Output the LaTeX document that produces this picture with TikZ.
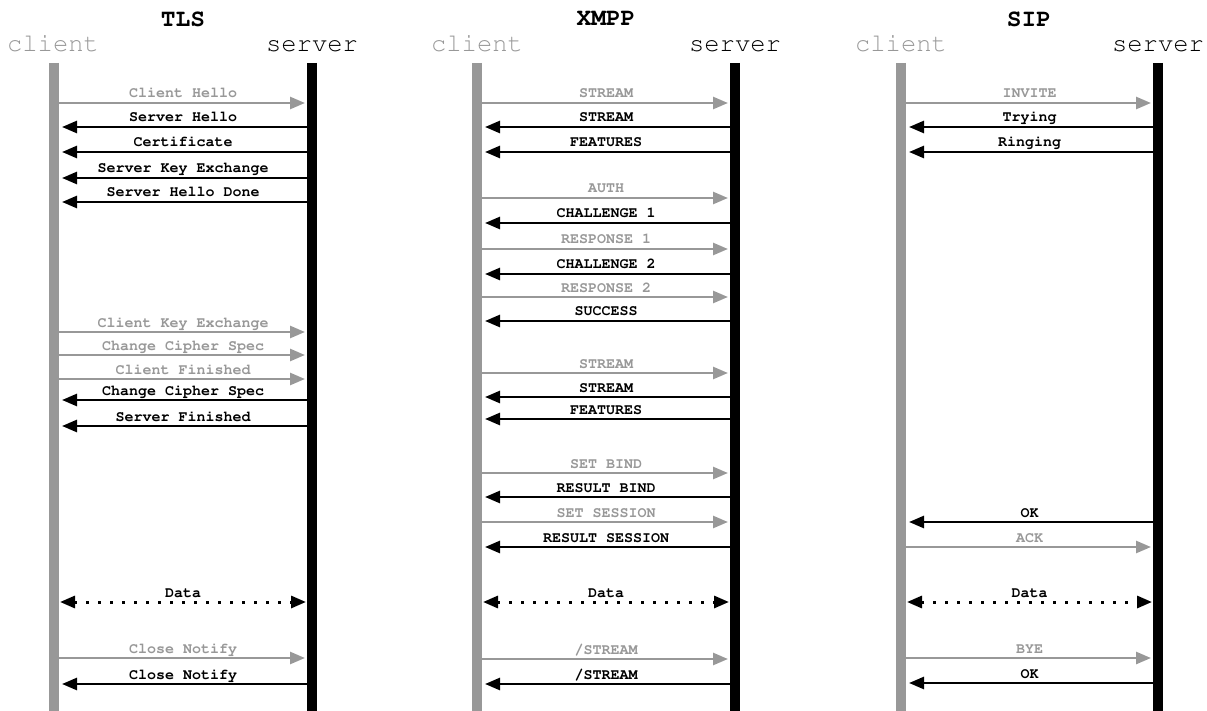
\documentclass[tikz,border=0pt]{standalone}
\usepackage[T1]{fontenc}
\usepackage{courier}
\usetikzlibrary{arrows.meta}
\definecolor{cgray}{RGB}{152,152,152}

\begin{document}
\begin{tikzpicture}[x=1pt,y=-1pt,
  title/.style={font=\fontsize{24.5}{24.5}\selectfont\ttfamily\bfseries},
  cname/.style={font=\fontsize{25.5}{25.5}\selectfont\ttfamily,text=cgray,anchor=base},
  sname/.style={font=\fontsize{25.5}{25.5}\selectfont\ttfamily,anchor=base},
  lbl/.style={midway,anchor=base,yshift=5pt,inner sep=0pt,font=\fontsize{15}{15}\selectfont\ttfamily\bfseries},
  c2s/.style={draw=cgray,text=cgray,line width=2.6pt,-{Triangle[length=15pt,width=12pt]},shorten >=7pt},
  s2c/.style={draw=black,line width=2.6pt,-{Triangle[length=15pt,width=12pt]},shorten >=8pt},
  datamsg/.style={line width=3pt,dash pattern=on 3pt off 9pt,{Triangle[length=15pt,width=12pt]}-{Triangle[length=15pt,width=12pt]},shorten <=6pt,shorten >=6pt},
  cline/.style={cgray,line width=9.5pt},
  sline/.style={black,line width=9.5pt}]
  \useasboundingbox (0,0) rectangle (1207,711);
  %
  % TLS
  \node[title] (tlstitle) at (183,19) {TLS};
  \node[cname] (tlsclient) at (53,52) {client};
  \node[sname] (tlsserver) at (312,52) {server};
  \coordinate (tlsc) at (54,63);
  \coordinate (tlss) at (312,63);
  \foreach \y/\t in {103/Client Hello,332/Client Key Exchange,355/Change Cipher Spec,379/Client Finished,658/Close Notify} {
    \draw[c2s] (tlsc |- 0,\y) -- node[lbl] {\t} (tlss |- 0,\y);
  }
  \foreach \y/\t in {127/Server Hello,152/Certificate,178/Server Key Exchange,202/Server Hello Done,400/Change Cipher Spec,426/Server Finished,684/Close Notify} {
    \draw[s2c] (tlss |- 0,\y) -- node[lbl] {\t} (tlsc |- 0,\y);
  }
  \draw[datamsg] (tlsc |- 0,602) -- node[lbl] {Data} (tlss |- 0,602);
  \draw[cline] (tlsc) -- (tlsc |- 0,711);
  \draw[sline] (tlss) -- (tlss |- 0,711);
  %
  % XMPP
  \node[title] (xmpptitle) at (606,19) {XMPP};
  \node[cname] (xmppclient) at (477,52) {client};
  \node[sname] (xmppserver) at (735,52) {server};
  \coordinate (xmppc) at (477,63);
  \coordinate (xmpps) at (735,63);
  \foreach \y/\t in {103/STREAM,198/AUTH,249/RESPONSE 1,297/RESPONSE 2,373/STREAM,473/SET BIND,522/SET SESSION,659/{/STREAM}} {
    \draw[c2s] (xmppc |- 0,\y) -- node[lbl] {\t} (xmpps |- 0,\y);
  }
  \foreach \y/\t in {127/STREAM,152/FEATURES,223/CHALLENGE 1,274/CHALLENGE 2,321/SUCCESS,397/STREAM,419/FEATURES,497/RESULT BIND,547/RESULT SESSION,684/{/STREAM}} {
    \draw[s2c] (xmpps |- 0,\y) -- node[lbl] {\t} (xmppc |- 0,\y);
  }
  \draw[datamsg] (xmppc |- 0,602) -- node[lbl] {Data} (xmpps |- 0,602);
  \draw[cline] (xmppc) -- (xmppc |- 0,711);
  \draw[sline] (xmpps) -- (xmpps |- 0,711);
  %
  % SIP
  \node[title] (siptitle) at (1029,19) {SIP};
  \node[cname] (sipclient) at (901,52) {client};
  \node[sname] (sipserver) at (1158,52) {server};
  \coordinate (sipc) at (901,63);
  \coordinate (sips) at (1158,63);
  \foreach \y/\t in {103/INVITE,547/ACK,658/BYE} {
    \draw[c2s] (sipc |- 0,\y) -- node[lbl] {\t} (sips |- 0,\y);
  }
  \foreach \y/\t in {127/Trying,152/Ringing,522/OK,683/OK} {
    \draw[s2c] (sips |- 0,\y) -- node[lbl] {\t} (sipc |- 0,\y);
  }
  \draw[datamsg] (sipc |- 0,602) -- node[lbl] {Data} (sips |- 0,602);
  \draw[cline] (sipc) -- (sipc |- 0,711);
  \draw[sline] (sips) -- (sips |- 0,711);
\end{tikzpicture}
\end{document}
